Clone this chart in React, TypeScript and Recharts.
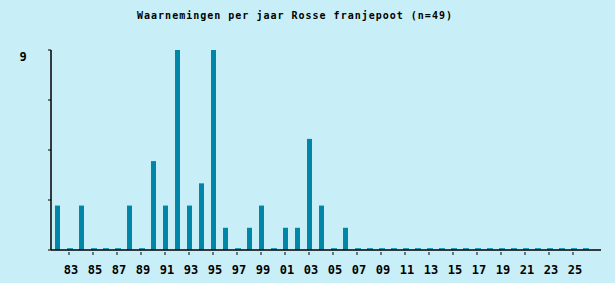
import React from "react";
import { BarChart, Bar, XAxis, YAxis } from "recharts";

const years: number[] = [
  1982, 1983, 1984, 1985, 1986, 1987, 1988, 1989, 1990, 1991, 1992, 1993, 1994, 1995, 1996,
  1997, 1998, 1999, 2000, 2001, 2002, 2003, 2004, 2005, 2006, 2007, 2008, 2009, 2010, 2011,
  2012, 2013, 2014, 2015, 2016, 2017, 2018, 2019, 2020, 2021, 2022, 2023, 2024, 2025, 2026,
];
const counts: number[] = [
  2, 0, 2, 0, 0, 0, 2, 0, 4, 2, 9, 2, 3, 9, 1,
  0, 1, 2, 0, 1, 1, 5, 2, 0, 1, 0, 0, 0, 0, 0,
  0, 0, 0, 0, 0, 0, 0, 0, 0, 0, 0, 0, 0, 0, 0,
];
const yTicks: number[] = [0, 2.25, 4.5, 6.75, 9];
const yLabels: number[] = [9];
const title = "Waarnemingen per jaar Rosse franjepoot (n=49)";

const data = years.map((y, i) => ({ year: y, count: counts[i] }));

const FONT = "'DejaVu Sans Mono', 'Liberation Mono', monospace";

const BarShape = (props: any) => {
  const { x, y, width, height, value } = props;
  if (!value) {
    return <rect x={x} y={y - 2} width={width + 1} height={2} fill="#1d9fc2" />;
  }
  return <rect x={x} y={y} width={width} height={height} fill="#0086a8" />;
};

const XTick = (props: any) => {
  const { x, y, payload } = props;
  const yr = Number(payload.value);
  if (yr % 2 === 0) return null;
  const lbl = String(yr % 100).padStart(2, "0");
  return (
    <g>
      <line x1={x} x2={x} y1={y} y2={y + 3} stroke="#000" strokeWidth={1} />
      <text x={x + 2} y={y + 22} textAnchor="middle" fontFamily={FONT} fontWeight="bold" fontSize={12} fill="#000">
        {lbl}
      </text>
    </g>
  );
};

const YTick = (props: any) => {
  const { y, payload } = props;
  if (!yLabels.includes(payload.value)) return null;
  return (
    <text x={23} y={y + 11} textAnchor="middle" fontFamily={FONT} fontWeight="bold" fontSize={12} fill="#000">
      {payload.value}
    </text>
  );
};

export default function App() {
  return (
    <div style={{ position: "absolute", left: 0, top: 0, width: 615, height: 283, background: "#c8eff7" }}>
      <div
        style={{
          position: "absolute",
          left: 0,
          width: 590,
          top: 10,
          textAlign: "center",
          fontFamily: FONT,
          fontWeight: "bold",
          fontSize: 10,
          letterSpacing: "1px",
          color: "#000",
          whiteSpace: "pre",
        }}
      >
        {title}
      </div>
      <BarChart
        width={615}
        height={283}
        data={data}
        margin={{ top: 50, right: 14, bottom: 0, left: 0 }}
        barSize={5}
        style={{ position: "absolute", left: 0, top: 0 }}
      >
        <XAxis
          dataKey="year"
          interval={0}
          height={33}
          tickSize={0}
          tickLine={false}
          padding={{ left: 0, right: 10 }}
          axisLine={{ stroke: "#000", strokeWidth: 1.5 }}
          tick={<XTick />}
        />
        <YAxis
          width={51}
          domain={[0, 9]}
          ticks={yTicks}
          tickSize={3}
          tickLine={{ stroke: "#000" }}
          axisLine={{ stroke: "#000", strokeWidth: 1.5 }}
          tick={<YTick />}
        />
        <Bar dataKey="count" isAnimationActive={false} shape={<BarShape />} />
      </BarChart>
    </div>
  );
}
